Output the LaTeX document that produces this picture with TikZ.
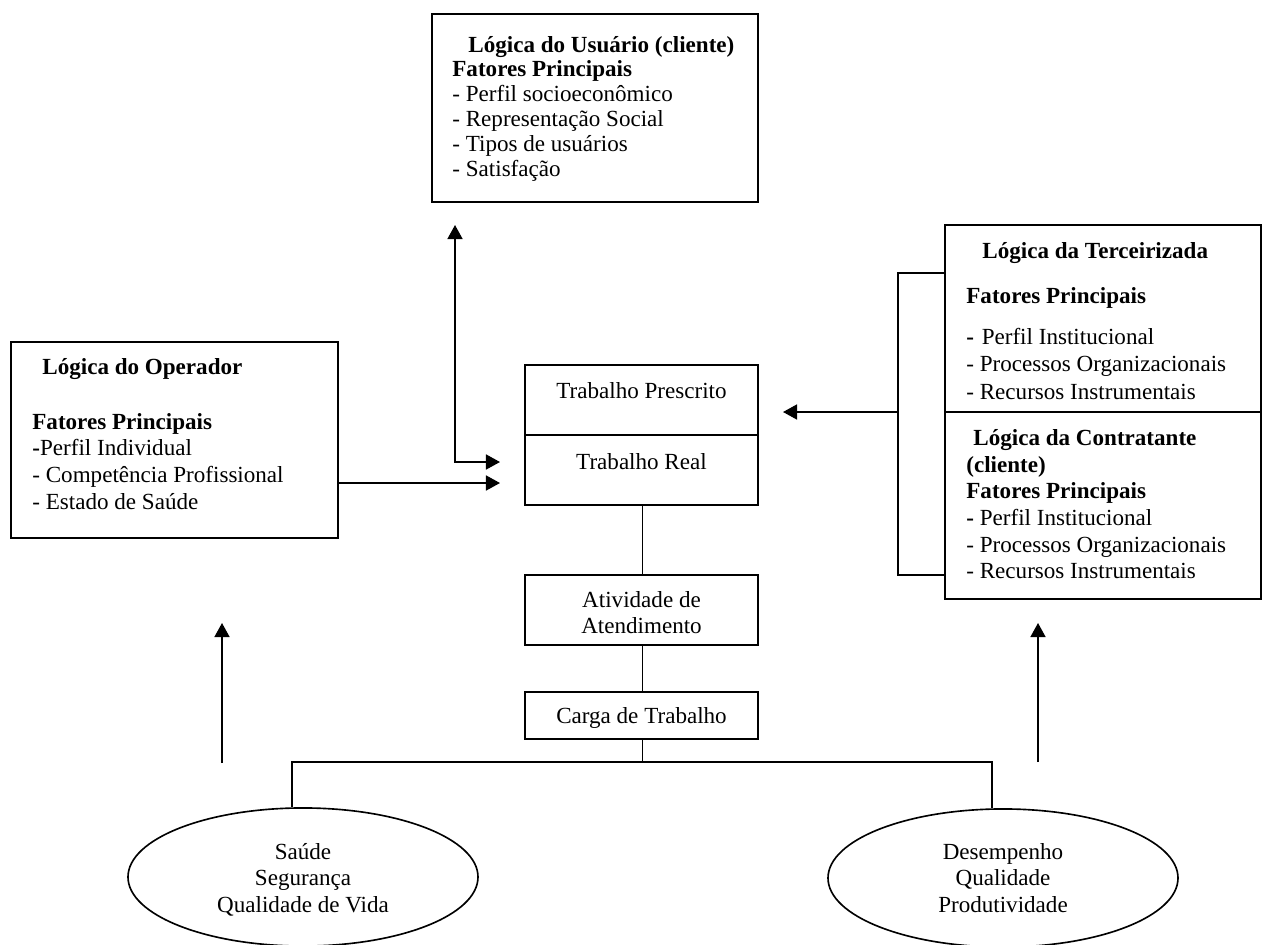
\documentclass[tikz,border=0pt]{standalone}
\usepackage{fontspec}
\setmainfont{Liberation Serif}
\usetikzlibrary{shapes.geometric,arrows.meta,fit}
\begin{document}
\begin{tikzpicture}[x=0.52pt,y=-0.52pt,
  box/.style={draw, line width=0.85pt, inner sep=0pt},
  ln/.style={line width=0.85pt},
  arr/.style={line width=0.85pt, -{Triangle[length=7.3pt,width=7.8pt]}},
  darr/.style={line width=0.85pt, {Triangle[length=7.3pt,width=7.8pt]}-{Triangle[length=7.3pt,width=7.8pt]}},
  txt/.style={inner sep=0pt, font=\fontsize{12}{13.8}\selectfont},
  blw/.style={txt, align=left, anchor=north west, yshift=9.66pt},
  blc/.style={txt, align=center, anchor=north, yshift=9.66pt},
  elli/.style={draw, ellipse, line width=0.85pt, inner sep=0pt, minimum width=182pt, minimum height=71.8pt}
]
\useasboundingbox (0,0) rectangle (1263,944);
\clip (0,0) rectangle (1263,944);

% boxes
\node[box, fit={(432,14) (758,202)}] (usuario) {};
\node[box, fit={(11,342) (338,538)}] (operador) {};
\node[box, fit={(525,365) (758,435)}] (prescrito) {};
\node[box, fit={(525,435) (758,505)}] (real) {};
\node[box, fit={(525,575) (758,645)}] (atividade) {};
\node[box, fit={(525,692) (758,739)}] (carga) {};
\node[box, fit={(945,225) (1261,412)}] (terc) {};
\node[box, fit={(945,412) (1261,599)}] (contr) {};
\node[elli] (saude) at (303,877) {};
\node[elli] (desemp) at (1003,878) {};

% texts: top box
\node[txt, anchor=base west, font=\fontsize{12}{13.8}\selectfont\bfseries] (usuT) at (468,52.5) {Lógica do Usuário (cliente)};
\node[blw, font=\fontsize{12}{13}\selectfont] (usuB) at (452,77) {\strut\textbf{Fatores Principais}\\- Perfil socioeconômico\\- Representação Social\\- Tipos de usuários\\- Satisfação};

% left box
\node[txt, anchor=base west, font=\fontsize{12}{13.8}\selectfont\bfseries] (opT) at (42,374) {Lógica do Operador};
\node[blw] (opB) at (32,429) {\strut\textbf{Fatores Principais}\\\textbf{-}Perfil Individual\\- Competência Profissional\\- Estado de Saúde};

% right top box
\node[txt, anchor=base west, font=\fontsize{12}{13.8}\selectfont\bfseries] (tercT) at (982,258) {Lógica da Terceirizada};
\node[txt, anchor=base west, font=\fontsize{12}{13.8}\selectfont\bfseries] (tercF) at (966,303) {Fatores Principais};
\node[blw, font=\fontsize{12}{14.3}\selectfont] (tercB) at (966,343) {\strut{\bfseries -}\hspace{4pt}Perfil Institucional\\- Processos Organizacionais\\- Recursos Instrumentais};

% right bottom box
\node[txt, anchor=base west, font=\fontsize{12}{13.8}\selectfont\bfseries] (contrT) at (973,445) {Lógica da Contratante};
\node[blw] (contrB) at (966,472) {\strut\textbf{(cliente)}\\\textbf{Fatores Principais}\\\textbf{-} Perfil Institucional\\- Processos Organizacionais\\- Recursos Instrumentais};

% center texts
\node[txt, anchor=base] (prescT) at (641.5,398) {Trabalho Prescrito};
\node[txt, anchor=base] (realT) at (641.5,469) {Trabalho Real};
\node[blc] (ativT) at (641.5,607) {\strut Atividade de\\Atendimento};
\node[txt, anchor=base] (cargaT) at (641.5,723) {Carga de Trabalho};

% ellipse texts
\node[blc] (saudeT) at (303,859) {\strut Saúde\\Segurança\\Qualidade de Vida};
\node[blc] (desempT) at (1003,859) {\strut Desempenho\\Qualidade\\Produtividade};

% connector coordinates
\coordinate (cx) at (642.6,0);
\coordinate (uTip) at (455,225);
\coordinate (rTip) at (500,462);
\coordinate (oTip) at (500,483);
\coordinate (bt) at (898,273);
\coordinate (bm) at (898,412);
\coordinate (bb) at (898,575);
\coordinate (pTip) at (783,412);
\coordinate (hl) at (292,762);
\coordinate (hr) at (992,762);
\coordinate (laTail) at (222,763);
\coordinate (laTip) at (222,623);
\coordinate (raTail) at (1038,762);
\coordinate (raTip) at (1038,623);

% connectors
\draw[darr] (uTip) |- (rTip);
\draw[arr] (operador.east |- oTip) -- (oTip);
\draw[ln] (terc.west |- bt) -- (bt) -- (bb) -- (contr.west |- bb);
\draw[arr] (bm) -- (pTip);
\draw[ln] (real.south -| cx) -- (atividade.north -| cx);
\draw[ln] (atividade.south -| cx) -- (carga.north -| cx);
\draw[ln] (carga.south -| cx) -- (cx |- hl);
\draw[ln] (saude.north -| hl) -- (hl) -- (hr) -- (desemp.north -| hr);
\draw[arr] (laTail) -- (laTip);
\draw[arr] (raTail) -- (raTip);
\end{tikzpicture}
\end{document}
